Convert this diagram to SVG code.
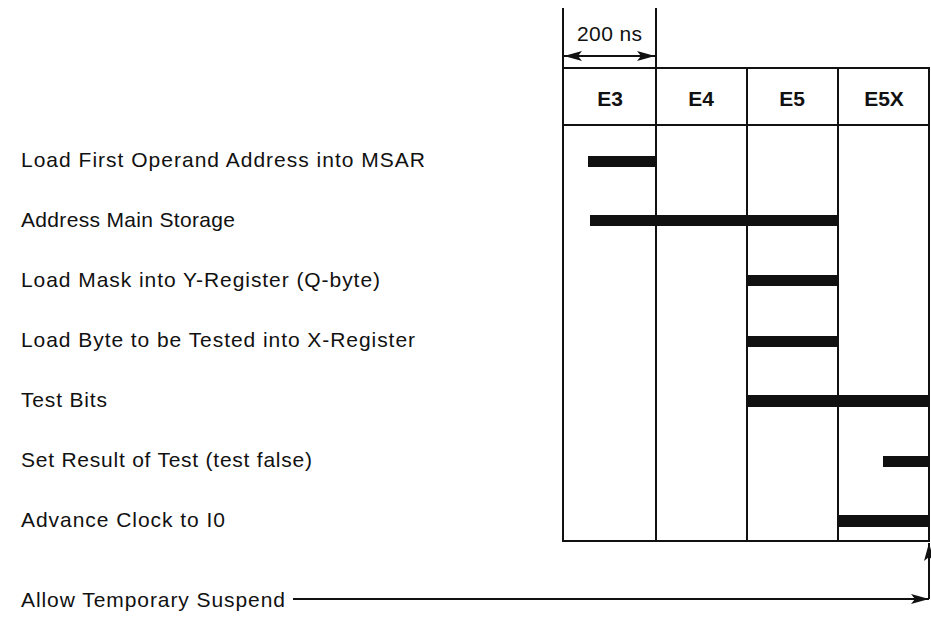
<svg xmlns="http://www.w3.org/2000/svg" width="931" height="624" viewBox="0 0 931 624">
<style>
.lbl{font-family:"Liberation Sans",Arial,sans-serif;font-size:21px;fill:#111}
.hdr{font-family:"Liberation Sans",Arial,sans-serif;font-size:21px;font-weight:bold;fill:#111;text-anchor:middle}
.ln{stroke:#111;stroke-width:2;fill:none}
.bar{fill:#111}
</style>
<defs>
<marker id="ah" viewBox="0 0 18 10" refX="18" refY="5" markerWidth="18" markerHeight="10" markerUnits="userSpaceOnUse" orient="auto-start-reverse">
<path d="M0,0 L18,5 L0,10 L4,5 Z" fill="#111"/>
</marker>
</defs>
<rect width="931" height="624" fill="#fff"/>
<g id="grid">
<line class="ln" x1="563" y1="8" x2="563" y2="541"/>
<line class="ln" x1="656" y1="8" x2="656" y2="541"/>
<line class="ln" x1="747" y1="68" x2="747" y2="541"/>
<line class="ln" x1="838" y1="68" x2="838" y2="541"/>
<line class="ln" x1="929" y1="68" x2="929" y2="541"/>
<line class="ln" x1="562" y1="68" x2="930" y2="68"/>
<line class="ln" x1="562" y1="125" x2="930" y2="125"/>
<line class="ln" x1="562" y1="541" x2="930" y2="541"/>
</g>
<g id="header">
<text class="hdr" x="610" y="106">E3</text>
<text class="hdr" x="701" y="106">E4</text>
<text class="hdr" x="792" y="106">E5</text>
<text class="hdr" x="884" y="106">E5X</text>
</g>
<g id="dimension">
<text class="lbl" x="577" y="41" textLength="65" lengthAdjust="spacing">200 ns</text>
</g>
<g id="labels">
<text class="lbl" x="21" y="167" textLength="404" lengthAdjust="spacing">Load First Operand Address into MSAR</text>
<text class="lbl" x="21" y="227" textLength="214" lengthAdjust="spacing">Address Main Storage</text>
<text class="lbl" x="21" y="287" textLength="359" lengthAdjust="spacing">Load Mask into Y-Register (Q-byte)</text>
<text class="lbl" x="21" y="347" textLength="394" lengthAdjust="spacing">Load Byte to be Tested into X-Register</text>
<text class="lbl" x="21" y="407" textLength="86" lengthAdjust="spacing">Test Bits</text>
<text class="lbl" x="21" y="467" textLength="291" lengthAdjust="spacing">Set Result of Test (test false)</text>
<text class="lbl" x="21" y="527" textLength="204" lengthAdjust="spacing">Advance Clock to I0</text>
<text class="lbl" x="21" y="607" textLength="264" lengthAdjust="spacing">Allow Temporary Suspend</text>
</g>
<g id="bars">
<rect class="bar" x="588" y="156" width="68" height="11"/>
<rect class="bar" x="590" y="215" width="248" height="11"/>
<rect class="bar" x="748" y="275" width="90" height="11"/>
<rect class="bar" x="748" y="336" width="90" height="11"/>
<rect class="bar" x="748" y="395" width="182" height="12"/>
<rect class="bar" x="883" y="456" width="47" height="11"/>
<rect class="bar" x="838" y="515" width="92" height="12"/>
</g>
<g id="connectors">
<line class="ln" x1="564" y1="56" x2="655" y2="56" marker-start="url(#ah)" marker-end="url(#ah)"/>
<line class="ln" x1="293" y1="599" x2="929" y2="599" marker-end="url(#ah)"/>
<line class="ln" x1="929" y1="599" x2="929" y2="543" marker-end="url(#ah)"/>
</g>
</svg>
